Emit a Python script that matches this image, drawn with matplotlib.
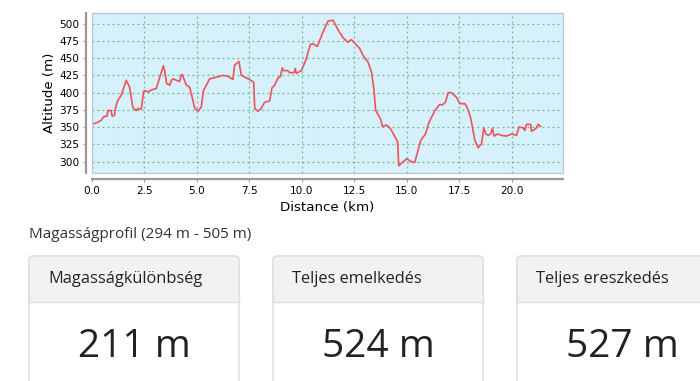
import matplotlib
matplotlib.use("Agg")
import matplotlib.pyplot as plt
from matplotlib.patches import FancyBboxPatch, Rectangle

distance_km = [0.0, 0.09, 0.28, 0.44, 0.56, 0.68, 0.72, 0.75, 0.91, 0.96, 1.07, 1.12, 1.23, 1.39,
               1.63, 1.79, 1.95, 2.11, 2.19, 2.35, 2.46, 2.51, 2.67, 2.83, 3.06, 3.40, 3.46, 3.55,
               3.71, 3.78, 3.87, 4.17, 4.25, 4.30, 4.49, 4.65, 4.89, 5.05, 5.20, 5.31, 5.60, 6.24,
               6.47, 6.71, 6.79, 7.00, 7.11, 7.51, 7.70, 7.75, 7.90, 8.06, 8.22, 8.46, 8.57, 8.70,
               8.86, 8.97, 9.06, 9.13, 9.33, 9.41, 9.62, 9.68, 9.73, 9.97, 10.18, 10.40, 10.52,
               10.73, 11.00, 11.24, 11.48, 11.72, 11.95, 12.19, 12.35, 12.51, 12.75, 12.91, 13.15,
               13.31, 13.42, 13.51, 13.74, 13.83, 14.02, 14.21, 14.39, 14.55, 14.61, 14.82, 15.00,
               15.24, 15.37, 15.66, 15.88, 16.05, 16.33, 16.56, 16.67, 16.83, 16.96, 17.12, 17.36,
               17.52, 17.76, 17.86, 18.03, 18.23, 18.39, 18.55, 18.66, 18.76, 18.87, 18.98, 19.07,
               19.15, 19.31, 19.50, 19.74, 19.98, 20.22, 20.33, 20.53, 20.61, 20.69, 20.89, 20.93,
               21.14, 21.25, 21.36]
altitude_m = [355, 355, 357, 360, 365, 366, 366, 374, 374, 366, 367, 378, 389, 396,
              418, 408, 378, 374, 377, 376, 402, 403, 401, 404, 406, 439, 432, 413,
              411, 418, 420, 416, 426, 426, 411, 408, 378, 373, 379, 403, 420, 425,
              424, 419, 440, 445, 425, 419, 415, 377, 373, 377, 386, 388, 407, 411,
              422, 423, 436, 432, 432, 429, 429, 435, 428, 432, 447, 470, 471,
              467, 488, 504, 505, 491, 480, 473, 477, 472, 464, 454, 444,
              430, 406, 374, 362, 351, 353, 348, 338, 329, 294, 300, 304,
              299, 299, 331, 340, 357, 374, 383, 382, 386, 400, 400, 393,
              384, 384, 379, 364, 331, 320, 326, 349, 340, 338, 340, 348,
              337, 340, 338, 337, 340, 338, 350, 349, 345, 354, 354, 344,
              348, 354, 351]
x_ticks = [0.0, 2.5, 5.0, 7.5, 10.0, 12.5, 15.0, 17.5, 20.0]
y_ticks = [300, 325, 350, 375, 400, 425, 450, 475, 500]

summary_title = "Magasságprofil (294 m - 505 m)"
card_titles = ["Magasságkülönbség", "Teljes emelkedés", "Teljes ereszkedés"]
card_values = ["211 m", "524 m", "527 m"]

W, H = 700, 381
fig = plt.figure(figsize=(7.0, 3.81), dpi=100)
fig.patch.set_facecolor("white")

# ---- chart ----
left, right, top, bottom = 92, 563, 13, 173
ax = fig.add_axes([left / W, 1 - bottom / H, (right - left) / W, (bottom - top) / H])
ax.set_facecolor("#d6f1fc")
ax.plot(distance_km, altitude_m, color="#f0525d", lw=1.2, zorder=3)
ax.set_xlim(0, 22.43)
ax.set_ylim(283.4, 515.6)
ax.set_xticks(x_ticks)
ax.set_xticklabels([f"{v:.1f}" for v in x_ticks])
ax.set_yticks(y_ticks)
ax.set_yticklabels([str(v) for v in y_ticks])
ax.grid(True, color="#6cbc86", linestyle=(0, (1.5, 2.5)), lw=0.9)
ax.axvline(0, color="#8088b8", linestyle=(0, (1.5, 1.5)), lw=1.2, zorder=2)
for s in ("top", "right"):
    ax.spines[s].set_color("#b8c8d0")
    ax.spines[s].set_linewidth(0.8)
for s in ("left", "bottom"):
    ax.spines[s].set_position(("outward", 4.5))
    ax.spines[s].set_color("#999999")
    ax.spines[s].set_linewidth(1.6)
ax.add_patch(Rectangle((0, 0), 1, 1, transform=ax.transAxes, fill=False,
                       edgecolor="#b8c8d0", lw=0.8, zorder=4, clip_on=False))
ax.tick_params(axis="both", colors="#999999", labelcolor="black", labelsize=7.6,
               length=2.5, width=0.8, pad=2)
ax.set_xlabel("Distance (km)", fontsize=9.6, labelpad=4)
ax.set_ylabel("Altitude (m)", fontsize=9.6, labelpad=2)

# ---- summary section ----
ov = fig.add_axes([0, 0, 1, 1], zorder=10)
ov.set_xlim(0, W)
ov.set_ylim(H, 0)
ov.axis("off")
ov.patch.set_alpha(0)

font = ["Open Sans", "DejaVu Sans"]
ov.text(29, 234, summary_title, fontsize=11.0, color="#333333", family=font,
        va="center", ha="left")

card_x = [29, 273, 517]
card_w = 210
card_top = 256
head_bottom = 302
for cx, title, val in zip(card_x, card_titles, card_values):
    body = FancyBboxPatch((cx, card_top), card_w, 200,
                          boxstyle="round,pad=0,rounding_size=4",
                          facecolor="white", edgecolor="#dddddd", lw=1.0)
    ov.add_patch(body)
    head = FancyBboxPatch((cx, card_top), card_w, head_bottom - card_top,
                          boxstyle="round,pad=0,rounding_size=4",
                          facecolor="#f2f2f2", edgecolor="#dddddd", lw=1.0)
    ov.add_patch(head)
    ov.add_patch(Rectangle((cx + 0.5, head_bottom - 6), card_w - 1, 6,
                           facecolor="#f2f2f2", edgecolor="none"))
    ov.plot([cx, cx], [head_bottom - 6, head_bottom], color="#dddddd", lw=1.0)
    ov.plot([cx + card_w, cx + card_w], [head_bottom - 6, head_bottom], color="#dddddd", lw=1.0)
    ov.plot([cx, cx + card_w], [head_bottom, head_bottom], color="#dddddd", lw=1.0)
    ov.text(cx + 19, 279, title, fontsize=11.8, color="#222222", family=font,
            va="center", ha="left")
    ov.text(cx + card_w / 2, 347, val, fontsize=28, color="#222222", family=font,
            va="center", ha="center")

fig.savefig("out.png", dpi=100, facecolor="white")
